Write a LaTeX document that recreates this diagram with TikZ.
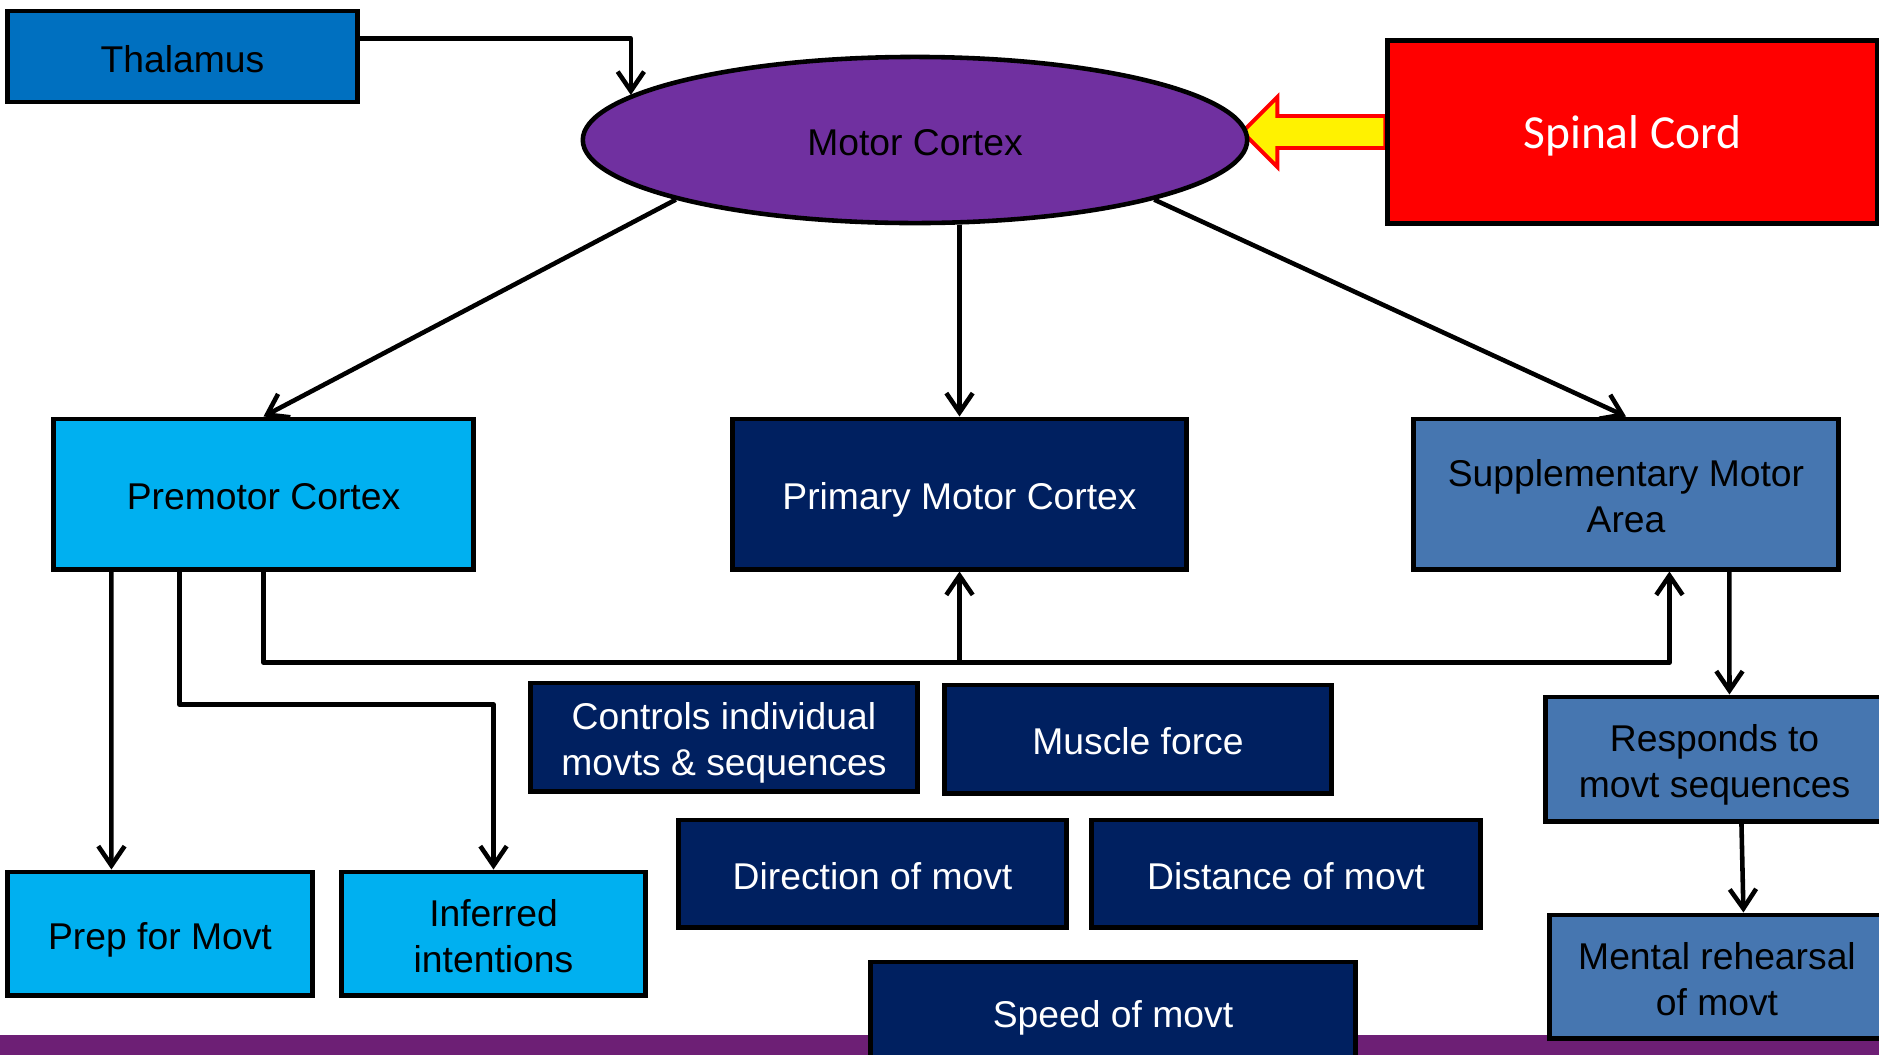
\documentclass[tikz,border=0pt]{standalone}
\usepackage{fontspec}
\setmainfont{Liberation Sans}
\newfontfamily\calib{Carlito}
\usetikzlibrary{arrows.meta,shapes.geometric,calc,backgrounds}
\definecolor{thalblue}{HTML}{0070C0}
\definecolor{pmblue}{HTML}{00B0F0}
\definecolor{navyblue}{HTML}{002060}
\definecolor{smablue}{HTML}{4676B0}
\definecolor{mcpurple}{HTML}{7030A0}
\definecolor{barpurple}{HTML}{6D1F75}
\newcommand{\mytopstrut}{\rule{0pt}{11.5pt}}
\newcommand{\mybotstrut}{\rule[-2.5pt]{0pt}{0pt}}
\begin{document}
\begin{tikzpicture}[x=0.01cm,y=-0.01cm,
  box/.style={draw=black, line width=1.4pt, rectangle, inner sep=0pt, align=center,
    font=\fontsize{10.6pt}{13pt}\selectfont},
  navybox/.style={box, fill=navyblue, text=white},
  pmbox/.style={box, fill=pmblue, text=black},
  smabox/.style={box, fill=smablue, text=black},
  conn/.style={line width=1.3pt, line join=round, -{Straight Barb[length=5.5pt,width=7.5pt]}},
]
\useasboundingbox (0,0) rectangle (1879,1054);
% bottom bar
\fill[barpurple] (0,1035) rectangle (1879,1060);

% nodes
\node[box, fill=thalblue, minimum width=3.49cm, minimum height=0.91cm] (thal) at (182.5,56.5)
  {\mytopstrut Thalamus\mybotstrut};
\node[ellipse, draw=black, line width=1.3pt, fill=mcpurple, inner sep=0pt,
      minimum width=6.64cm, minimum height=1.66cm,
      font=\fontsize{10.6pt}{13pt}\selectfont] (mc) at (915,140) {\mytopstrut Motor Cortex\mybotstrut};
\node[box, fill=red, text=white, minimum width=4.89cm, minimum height=1.82cm,
      font=\calib\fontsize{13.5pt}{16pt}\selectfont] (sc) at (1632.5,132)
  {\rule{0pt}{12.3pt}Spinal Cord\rule[-3pt]{0pt}{0pt}};

\node[pmbox, minimum width=4.19cm, minimum height=1.50cm] (pm) at (263.5,494)
  {\mytopstrut Premotor Cortex\mybotstrut};
\node[navybox, minimum width=4.53cm, minimum height=1.50cm] (pmc) at (959.5,494)
  {\mytopstrut Primary Motor Cortex\mybotstrut};
\node[smabox, minimum width=4.24cm, minimum height=1.50cm] (sma) at (1626,494)
  {\mytopstrut Supplementary Motor\\Area\mybotstrut};

\node[pmbox, minimum width=3.04cm, minimum height=1.23cm] (prep) at (160,933.5)
  {\mytopstrut Prep for Movt\mybotstrut};
\node[pmbox, minimum width=3.03cm, minimum height=1.23cm] (inf) at (493.5,933.5)
  {\mytopstrut Inferred\\intentions\mybotstrut};

\node[navybox, minimum width=3.86cm, minimum height=1.08cm] (ctrl) at (724,737)
  {\mytopstrut Controls individual\\movts \& sequences\mybotstrut};
\node[navybox, minimum width=3.86cm, minimum height=1.08cm] (mf) at (1138,739)
  {\mytopstrut Muscle force\mybotstrut};
\node[navybox, minimum width=3.87cm, minimum height=1.07cm] (dir) at (872.5,873.5)
  {\mytopstrut Direction of movt\mybotstrut};
\node[navybox, minimum width=3.88cm, minimum height=1.07cm] (dist) at (1286,873.5)
  {\mytopstrut Distance of movt\mybotstrut};
\node[navybox, minimum width=4.84cm, minimum height=1.00cm] (speed) at (1113,1012)
  {\mytopstrut Speed of movt\mybotstrut};

\node[smabox, minimum width=3.37cm, minimum height=1.24cm] (resp) at (1714.5,759)
  {\mytopstrut Responds to\\movt sequences\mybotstrut};
\node[smabox, minimum width=3.34cm, minimum height=1.23cm] (mental) at (1717,976.5)
  {\mytopstrut Mental rehearsal\\of movt\mybotstrut};

% yellow arrow from spinal cord to motor cortex
\begin{scope}[on background layer]
\draw[fill=yellow, draw=red, line width=1.1pt, line join=miter]
  ($(sc.west)+(0,-16)$) -- ($(sc.west)+(-108,-16)$) -- ($(sc.west)+(-108,-35)$)
  -- ($(sc.west)+(-143,0)$) -- ($(sc.west)+(-108,35)$) -- ($(sc.west)+(-108,16)$)
  -- ($(sc.west)+(0,16)$) -- cycle;
\end{scope}

% connectors
\draw[conn] ($(thal.north east)+(0,30)$) -| (mc.171.6);
\draw[conn] (mc.194.3) -- (pm.north);
\draw[conn] (pmc.north |- mc.south) -- (pmc.north);
\draw[conn] (mc.-14.2) -- (sma.north);

\draw[conn] ($(pm.south west)+(60,0)$) -- ($(prep.north west)+(106,0)$);
\draw[conn] ($(pm.south west)+(128,0)$) |- ($(inf.north)+(0,-165)$) -- (inf.north);
\draw[conn] (pm.south) |- ($(sma.south west)+(258,91)$) -- ($(sma.south west)+(258,0)$);
\draw[conn] ($(pmc.south)+(0,91)$) -- (pmc.south);

\draw[conn] ($(sma.south west)+(318,0)$) -- ($(resp.north west)+(186,0)$);
\draw[conn] ($(resp.south west)+(198,0)$) -- ($(mental.north west)+(196,0)$);
\end{tikzpicture}
\end{document}
